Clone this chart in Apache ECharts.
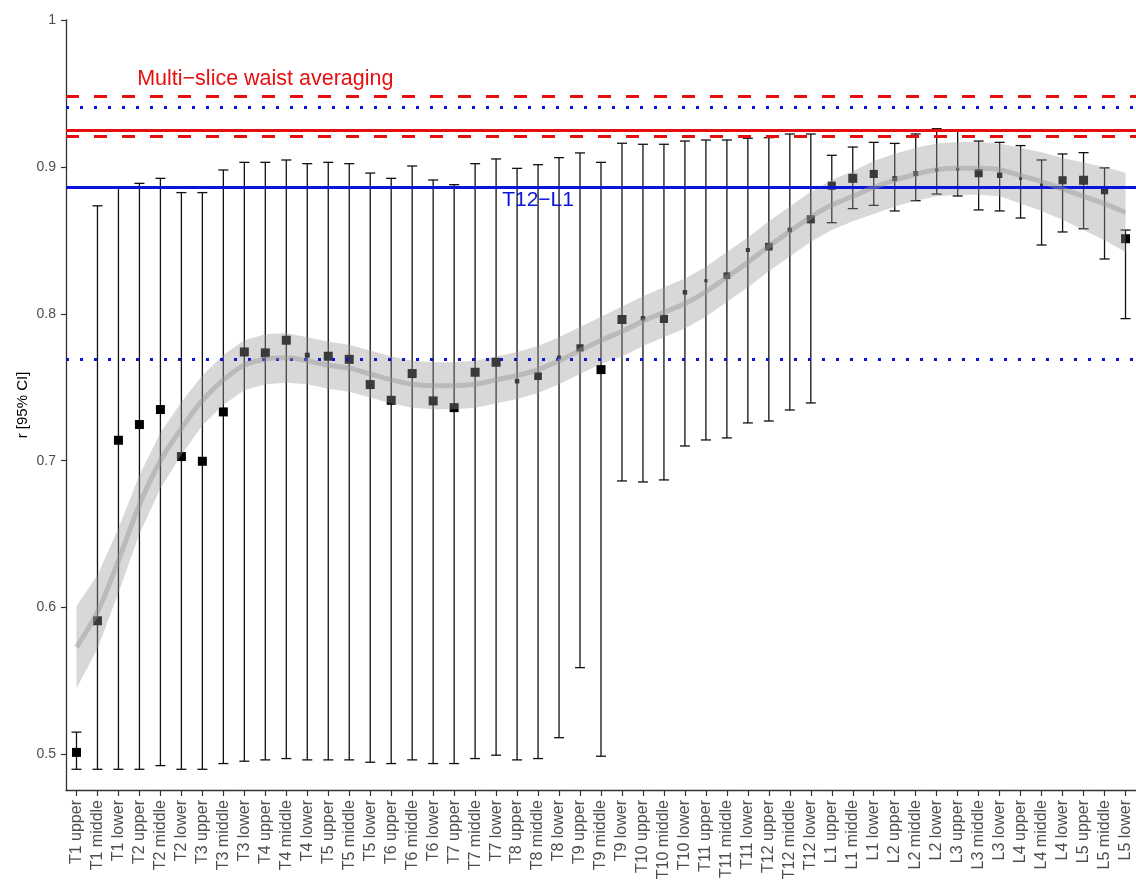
<!DOCTYPE html>
<html>
<head>
<meta charset="utf-8">
<title>Correlation by vertebral level</title>
<script src="https://cdn.jsdelivr.net/npm/echarts@6/dist/echarts.min.js"></script>
<style>
  html, body { margin: 0; padding: 0; background: #ffffff; }
  #chart { width: 1136px; height: 883px; }
</style>
</head>
<body>
<div id="chart"></div>
<script>
// Measurement levels along the spine
const categories = [
  'T1 upper', 'T1 middle', 'T1 lower', 'T2 upper', 'T2 middle', 'T2 lower',
  'T3 upper', 'T3 middle', 'T3 lower', 'T4 upper', 'T4 middle', 'T4 lower',
  'T5 upper', 'T5 middle', 'T5 lower', 'T6 upper', 'T6 middle', 'T6 lower',
  'T7 upper', 'T7 middle', 'T7 lower', 'T8 upper', 'T8 middle', 'T8 lower',
  'T9 upper', 'T9 middle', 'T9 lower', 'T10 upper', 'T10 middle', 'T10 lower',
  'T11 upper', 'T11 middle', 'T11 lower', 'T12 upper', 'T12 middle', 'T12 lower',
  'L1 upper', 'L1 middle', 'L1 lower', 'L2 upper', 'L2 middle', 'L2 lower',
  'L3 upper', 'L3 middle', 'L3 lower', 'L4 upper', 'L4 middle', 'L4 lower',
  'L5 upper', 'L5 middle', 'L5 lower'
];

// Correlation coefficient r per level
const rValue = [
  0.5014, 0.591, 0.7139, 0.7246, 0.7348, 0.7028,
  0.6996, 0.7332, 0.774, 0.7734, 0.782, 0.7718,
  0.7711, 0.769, 0.7518, 0.7411, 0.7593, 0.7407,
  0.7361, 0.7602, 0.767, 0.7541, 0.7575, 0.7702,
  0.7768, 0.762, 0.7961, 0.7969, 0.7965, 0.8146,
  0.8225, 0.8259, 0.8434, 0.8457, 0.857, 0.8643,
  0.8872, 0.8922, 0.8952, 0.892, 0.8954, 0.8979,
  0.8984, 0.8957, 0.8943, 0.8922, 0.8877, 0.8909,
  0.8909, 0.8838, 0.8511
];

// 95% confidence interval, lower bound
const ciLower = [
  0.4899, 0.4899, 0.4899, 0.4899, 0.4924, 0.4899,
  0.4899, 0.4938, 0.4954, 0.4963, 0.4972, 0.4963,
  0.4963, 0.4963, 0.4947, 0.4938, 0.4963, 0.4938,
  0.4938, 0.4972, 0.4995, 0.4963, 0.4972, 0.5114,
  0.5591, 0.4988, 0.6862, 0.6855, 0.6869, 0.710,
  0.7141, 0.7155, 0.7257, 0.727, 0.7345, 0.7393,
  0.862, 0.8716, 0.8738, 0.870, 0.877, 0.8815,
  0.8802, 0.8707, 0.870, 0.8652, 0.8468, 0.8557,
  0.8579, 0.8373, 0.7967
];

// 95% confidence interval, upper bound
const ciUpper = [
  0.5152, 0.8735, 0.886, 0.8888, 0.8922, 0.8825,
  0.8825, 0.8979, 0.9031, 0.9031, 0.9047, 0.9022,
  0.9031, 0.9022, 0.8958, 0.8922, 0.9006, 0.8911,
  0.8879, 0.9022, 0.9054, 0.899, 0.9015, 0.9063,
  0.9095, 0.9031, 0.9161, 0.9154, 0.9154, 0.9176,
  0.9183, 0.9183, 0.9195, 0.9199, 0.9224, 0.9224,
  0.9079, 0.9135, 0.9167, 0.916, 0.9224, 0.926,
  0.9245, 0.9176, 0.9167, 0.9145, 0.9047, 0.9088,
  0.9097, 0.8993, 0.857
];

// Relative weight of each estimate (drives the square marker size)
const pointWeight = [
  1, 1, 1, 1, 1, 1,
  1, 1, 1, 1, 1, 0.55,
  1, 1, 1, 1, 1, 1,
  1, 1, 1, 0.5, 0.85, 0.45,
  0.8, 1, 1, 0.5, 0.9, 0.5,
  0.35, 0.75, 0.45, 0.85, 0.5, 0.9,
  0.9, 1, 0.9, 0.55, 0.55, 0.35,
  0.35, 0.9, 0.6, 0.35, 0.35, 0.9,
  1, 0.8, 1
];

// Smoothed trend (loess) and its confidence ribbon
const smoothFit = [
  0.573, 0.597, 0.632, 0.670, 0.700, 0.722,
  0.741, 0.755, 0.765, 0.769, 0.770, 0.768,
  0.765, 0.763, 0.759, 0.755, 0.752, 0.751,
  0.751, 0.752, 0.755, 0.758, 0.762, 0.768,
  0.775, 0.782, 0.788, 0.795, 0.801, 0.807,
  0.815, 0.825, 0.835, 0.846, 0.856, 0.866,
  0.874, 0.880, 0.886, 0.891, 0.895, 0.898,
  0.899, 0.899, 0.898, 0.894, 0.890, 0.885,
  0.880, 0.875, 0.869
];
const smoothLower = [
  0.545, 0.572, 0.610, 0.650, 0.681, 0.704,
  0.724, 0.738, 0.748, 0.752, 0.753, 0.752,
  0.749, 0.747, 0.743, 0.739, 0.736, 0.735,
  0.735, 0.736, 0.739, 0.742, 0.746, 0.752,
  0.759, 0.766, 0.771, 0.778, 0.784, 0.790,
  0.798, 0.808, 0.818, 0.829, 0.839, 0.849,
  0.857, 0.863, 0.868, 0.873, 0.877, 0.880,
  0.881, 0.881, 0.880, 0.875, 0.870, 0.864,
  0.857, 0.850, 0.842
];
const smoothUpper = [
  0.601, 0.622, 0.654, 0.690, 0.719, 0.740,
  0.758, 0.772, 0.782, 0.786, 0.787, 0.784,
  0.781, 0.779, 0.775, 0.771, 0.768, 0.767,
  0.767, 0.768, 0.771, 0.774, 0.778, 0.784,
  0.791, 0.798, 0.805, 0.812, 0.818, 0.824,
  0.832, 0.842, 0.852, 0.863, 0.873, 0.883,
  0.891, 0.897, 0.904, 0.909, 0.913, 0.916,
  0.917, 0.917, 0.916, 0.913, 0.910, 0.906,
  0.903, 0.900, 0.896
];

// Reference correlations
const multiSliceR = 0.9251;
const multiSliceCI = [0.921, 0.9478];
const t12l1R = 0.8864;
const t12l1CI = [0.7691, 0.9405];

const yTicks = [0.5, 0.6, 0.7, 0.8, 0.9, 1];

const RED = '#e60f0f';
const BLUE = '#0a14dc';
const FONT = 'Liberation Sans, Arial, sans-serif';

const chart = echarts.init(document.getElementById('chart'), null, { renderer: 'canvas' });

const option = {
  backgroundColor: '#ffffff',
  animation: false,
  grid: { left: 66, top: 20, bottom: 93, width: 1073, containLabel: false },
  xAxis: {
    type: 'category',
    data: categories,
    boundaryGap: true,
    axisLine: { show: true, lineStyle: { color: '#333333', width: 1.3 } },
    axisTick: { show: true, alignWithLabel: true, length: 6, lineStyle: { color: '#333333', width: 1.2 } },
    axisLabel: {
      interval: 0, rotate: 90, margin: 10,
      fontFamily: FONT, fontSize: 16, color: '#4d4d4d'
    },
    splitLine: { show: false }
  },
  yAxis: {
    type: 'value',
    min: 0.4758,
    max: 1,
    name: 'r [95% CI]',
    nameLocation: 'middle',
    nameGap: 36,
    nameMoveOverlap: false,
    nameTextStyle: { fontFamily: FONT, fontSize: 15, color: '#000000' },
    axisLine: { show: true, lineStyle: { color: '#333333', width: 1.3 } },
    axisTick: { show: true, customValues: yTicks, length: 5, lineStyle: { color: '#333333', width: 1.2 } },
    axisLabel: {
      customValues: yTicks, margin: 10,
      fontFamily: FONT, fontSize: 14, color: '#4d4d4d',
      formatter: v => String(Math.round(v * 10) / 10)
    },
    splitLine: { show: false }
  },
  series: [
    {
      // confidence interval whiskers
      name: 'CI',
      type: 'custom',
      z: 2,
      data: categories.map((c, i) => [i, ciLower[i], ciUpper[i]]),
      encode: { x: 0, y: [1, 2] },
      renderItem(params, api) {
        const i = api.value(0);
        const lo = api.coord([i, api.value(1)]);
        const hi = api.coord([i, api.value(2)]);
        const cap = 5;
        const style = { stroke: '#111111', lineWidth: 1.3 };
        return {
          type: 'group',
          children: [
            { type: 'line', shape: { x1: lo[0], y1: lo[1], x2: hi[0], y2: hi[1] }, style },
            { type: 'line', shape: { x1: lo[0] - cap, y1: lo[1], x2: lo[0] + cap, y2: lo[1] }, style },
            { type: 'line', shape: { x1: hi[0] - cap, y1: hi[1], x2: hi[0] + cap, y2: hi[1] }, style }
          ]
        };
      }
    },
    {
      // point estimates
      name: 'r',
      type: 'scatter',
      z: 3,
      symbol: 'rect',
      data: rValue.map((v, i) => ({ value: [i, v], symbolSize: 9 * pointWeight[i] })),
      itemStyle: { color: '#000000', opacity: 1 }
    },
    {
      // loess confidence ribbon
      name: 'ribbon',
      type: 'custom',
      z: 4,
      silent: true,
      data: [[0, smoothFit[0]]],
      encode: { x: 0, y: 1 },
      renderItem(params, api) {
        const pts = [];
        for (let i = 0; i < categories.length; i++) pts.push(api.coord([i, smoothUpper[i]]));
        for (let i = categories.length - 1; i >= 0; i--) pts.push(api.coord([i, smoothLower[i]]));
        return {
          type: 'polygon',
          shape: { points: pts },
          style: { fill: 'rgba(153,153,153,0.38)' }
        };
      }
    },
    {
      // loess trend line
      name: 'trend',
      type: 'line',
      z: 5,
      silent: true,
      data: smoothFit,
      smooth: 0.3,
      showSymbol: false,
      symbol: 'none',
      lineStyle: { color: 'rgba(150,150,150,0.45)', width: 5 }
    },
    {
      // reference lines and their captions
      name: 'reference',
      type: 'line',
      z: 10,
      silent: true,
      data: categories.map(() => null),
      symbol: 'none',
      markLine: {
        silent: true,
        precision: 4,
        symbol: ['none', 'none'],
        label: { show: false },
        animation: false,
        data: [
          { yAxis: multiSliceCI[1], lineStyle: { color: RED, width: 3, type: [13, 15] } },
          { yAxis: t12l1CI[1], lineStyle: { color: BLUE, width: 3, type: [3, 11] } },
          { yAxis: multiSliceR, lineStyle: { color: RED, width: 3, type: 'solid' } },
          { yAxis: multiSliceCI[0], lineStyle: { color: RED, width: 3, type: [13, 15] } },
          { yAxis: t12l1R, lineStyle: { color: BLUE, width: 3, type: 'solid' } },
          { yAxis: t12l1CI[0], lineStyle: { color: BLUE, width: 3, type: [3, 11] } }
        ]
      },
      markPoint: {
        silent: true,
        symbol: 'rect',
        symbolSize: 0,
        animation: false,
        data: [
          {
            coord: ['T4 upper', 0.9598],
            label: {
              show: true, position: 'inside', formatter: 'Multi\u2212slice waist averaging',
              fontFamily: FONT, fontSize: 21.5, color: RED
            }
          },
          {
            coord: ['T8 middle', 0.877],
            label: {
              show: true, position: 'inside', formatter: 'T12\u2212L1',
              fontFamily: FONT, fontSize: 21, color: BLUE
            }
          }
        ]
      }
    }
  ]
};

chart.setOption(option);
</script>
</body>
</html>
